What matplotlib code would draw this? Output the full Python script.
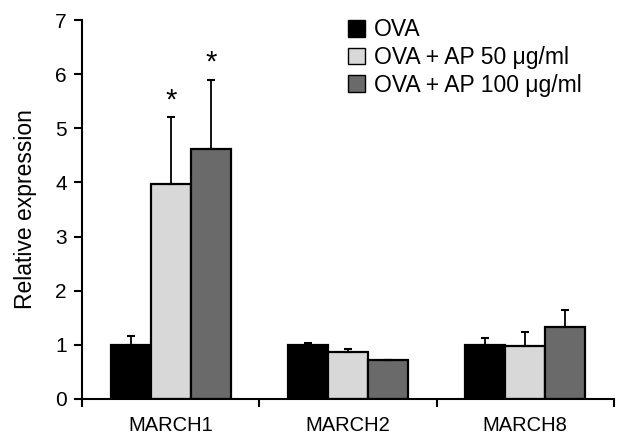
import numpy as np
import matplotlib.pyplot as plt
from matplotlib.patches import Patch

plt.rcParams['font.family'] = ['Liberation Sans', 'DejaVu Sans']

# data
genes = ['MARCH1', 'MARCH2', 'MARCH8']
groups = ['OVA', 'OVA + AP 50 \u03bcg/ml', 'OVA + AP 100 \u03bcg/ml']
ova = [1.0, 1.0, 1.0]
ova_err = [0.17, 0.04, 0.13]
ap50 = [3.98, 0.87, 0.97]
ap50_err = [1.23, 0.05, 0.27]
ap100 = [4.61, 0.72, 1.33]
ap100_err = [1.29, 0.0, 0.31]
colors = ['#000000', '#d8d8d8', '#6a6a6a']

fig = plt.figure(figsize=(6.17, 4.37), dpi=100)
ax = fig.add_axes([0.133, 0.087, 0.862, 0.867])

x = np.arange(len(genes))
w = 0.226
series = [(ova, ova_err), (ap50, ap50_err), (ap100, ap100_err)]
for i, (vals, errs) in enumerate(series):
    pos = x + (i - 1) * w
    ax.bar(pos, vals, w, color=colors[i], edgecolor='black', linewidth=1.6,
           yerr=[np.zeros(len(errs)), errs], capsize=2.7,
           error_kw=dict(ecolor='black', elinewidth=1.3, capthick=1.5),
           zorder=2)

# significance marks
ax.text(x[0], ap50[0] + ap50_err[0] + 0.05, '*', ha='center', va='bottom', fontsize=21)
ax.text(x[0] + w, ap100[0] + ap100_err[0] + 0.05, '*', ha='center', va='bottom', fontsize=21)

ax.set_xlim(-0.5, 2.5)
ax.set_ylim(0, 7)
ax.set_yticks(range(8))
ax.set_xticks([-0.5, 0.5, 1.5, 2.5])
ax.set_xticklabels([])
ax.set_xticks(x, minor=True)
ax.set_xticklabels(genes, minor=True)
ax.tick_params(axis='x', which='minor', length=0, pad=12, labelsize=14.5)
ax.tick_params(axis='x', which='major', direction='out', length=6, width=1.5)
ax.tick_params(axis='y', direction='out', length=6, width=1.5, labelsize=15, pad=5)
for s in ['top', 'right']:
    ax.spines[s].set_visible(False)
for s in ['left', 'bottom']:
    ax.spines[s].set_linewidth(1.5)
ax.set_ylabel('Relative expression', fontsize=16.5, labelpad=13)

handles = [Patch(facecolor=c, edgecolor='black', linewidth=1) for c in colors]
ax.legend(handles, groups, loc='upper left', bbox_to_anchor=(0.5, 1.005),
          frameon=False, fontsize=16.5, handlelength=0.75, handleheight=0.75,
          handletextpad=0.4, labelspacing=0.21, borderaxespad=0, borderpad=0)

fig.savefig('out.png', dpi=100)
